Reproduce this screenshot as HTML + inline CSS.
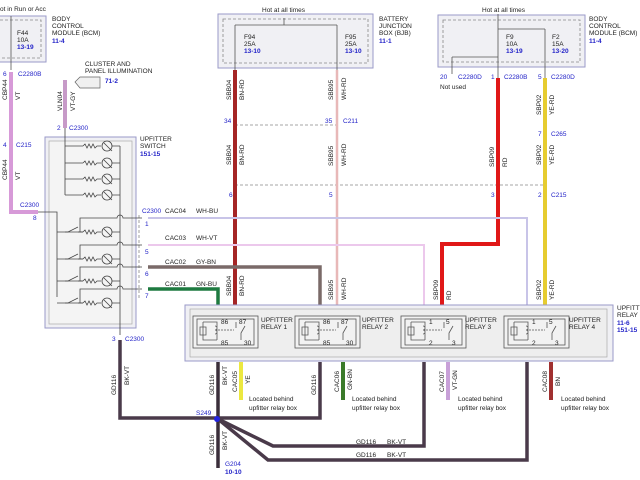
<!DOCTYPE html><html><head><style>body{margin:0;background:#fff}svg{display:block}text{font-family:"Liberation Sans",sans-serif;font-size:6.5px;fill:#222}.b{fill:#2323c8}.bb{fill:#2323c8;font-weight:bold}</style></head><body>
<svg width="640" height="480" viewBox="0 0 640 480" xmlns="http://www.w3.org/2000/svg">
<defs>
<g id="lamp"><path d="M65 0H83"/><path d="M83 0l2 -2 2 4 2 -4 2 4 2 -4 2 4 2-2H101"/><circle cx="107" cy="0" r="5"/><path d="M112 0H120M104 -3l6 6M110 3l2 2"/></g>
<g id="sw"><path d="M57 0H68l10 -5M78 0H83"/><use href="#lamp" x="0" y="0"/><path d="M80 0V-14H117a3 3 0 0 1 6 0H142"/></g>
<g id="rel" stroke="#555" stroke-width="0.8" fill="none">
<rect x="193" y="316" width="65" height="32" fill="#f2f2f2"/><rect x="197" y="319" width="57" height="26"/>
<path d="M203 322V340h14M203 322h14V340M200 327h6v8h-6zM215 326a2 2 0 0 1 0 4a2 2 0 0 1 0 4"/>
<path d="M236 322V328M241 340V333l4 -7" /><path d="M218 330H234" stroke-dasharray="2,1"/>
</g>
</defs>
<!-- top boxes -->
<g fill="#f0f0f4" stroke="#9a9ac8" stroke-width="1">
<rect x="-5" y="16" width="51" height="46"/>
<rect x="218" y="14" width="155" height="54"/>
<rect x="438" y="15" width="147" height="52"/>
</g>
<g fill="none" stroke="#888" stroke-dasharray="3,2" stroke-width="0.8">
<rect x="-5" y="20" width="46" height="38"/>
<rect x="223" y="19" width="145" height="44"/>
<rect x="443" y="20" width="137" height="42"/>
<line x1="235" y1="125" x2="340" y2="125"/>
<line x1="235" y1="185" x2="545" y2="185"/>
<line x1="139" y1="215" x2="139" y2="300"/>
</g>
<g stroke="#555" stroke-width="0.8" fill="none">
<line x1="11" y1="16" x2="11" y2="70"/>
<line x1="235" y1="25" x2="284" y2="25"/><line x1="284" y1="18" x2="284" y2="25"/><line x1="284" y1="25" x2="337" y2="25"/>
<line x1="235" y1="25" x2="235" y2="70"/><line x1="337" y1="25" x2="337" y2="70"/>
<line x1="498" y1="14" x2="498" y2="78"/><line x1="498" y1="29" x2="545" y2="29"/><line x1="545" y1="29" x2="545" y2="78"/>
<line x1="498" y1="57" x2="452" y2="57"/><line x1="452" y1="57" x2="452" y2="74"/>
</g>
<text x="0" y="11">ot in Run or Acc</text>
<text x="17" y="35">F44</text><text x="17" y="42">10A</text><text x="17" y="49" class="bb">13-19</text>
<text x="52" y="21">BODY</text><text x="52" y="28">CONTROL</text><text x="52" y="35">MODULE (BCM)</text><text x="52" y="43" class="bb">11-4</text>
<text x="262" y="12">Hot at all times</text>
<text x="244" y="39">F94</text><text x="244" y="46">25A</text><text x="244" y="53" class="bb">13-10</text>
<text x="345" y="39">F95</text><text x="345" y="46">25A</text><text x="345" y="53" class="bb">13-10</text>
<text x="379" y="21">BATTERY</text><text x="379" y="28">JUNCTION</text><text x="379" y="35">BOX (BJB)</text><text x="379" y="43" class="bb">11-1</text>
<text x="482" y="12">Hot at all times</text>
<text x="506" y="39">F9</text><text x="506" y="46">10A</text><text x="506" y="53" class="bb">13-19</text>
<text x="552" y="39">F2</text><text x="552" y="46">15A</text><text x="552" y="53" class="bb">13-20</text>
<text x="589" y="21">BODY</text><text x="589" y="28">CONTROL</text><text x="589" y="35">MODULE (BCM)</text><text x="589" y="43" class="bb">11-4</text>
<g fill="none" stroke-linecap="butt">
<path d="M11 72V212H38" stroke="#d79ad8" stroke-width="4"/>
<path d="M65 80V128" stroke="#c79ac8" stroke-width="4"/>
<path d="M235 70V305" stroke="#a52525" stroke-width="4"/>
<path d="M337 70V305" stroke="#e8b8b8" stroke-width="2.5"/>
<path d="M498 78V244H442V305" stroke="#e01818" stroke-width="4"/>
<path d="M545 78V305" stroke="#e6cc30" stroke-width="4"/>
<path d="M148 218H527V305" stroke="#c8c4e8" stroke-width="2"/>
<path d="M148 245H424V305" stroke="#ecc8ec" stroke-width="2"/>
<path d="M148 267H320V305" stroke="#7a6a68" stroke-width="3.5"/>
<path d="M148 289H218V305" stroke="#1e7a40" stroke-width="3.5"/>
<path d="M120 340V418H320V362" stroke="#4a3a4a" stroke-width="3.5"/>
<path d="M218 362V468" stroke="#3a2e3a" stroke-width="3.5"/>
<path d="M218 419L273 446H424V362" stroke="#4a3a4a" stroke-width="3.5"/>
<path d="M218 419L268 460H527V362" stroke="#4a3a4a" stroke-width="3.5"/>
<path d="M241 362V400" stroke="#ece840" stroke-width="4"/>
<path d="M343 362V400" stroke="#3a7a2a" stroke-width="4"/>
<path d="M448 362V400" stroke="#c8a0d8" stroke-width="4"/>
<path d="M551 362V400" stroke="#a03030" stroke-width="4"/>
</g>
<circle cx="217" cy="419" r="3" fill="#2323e0"/>
<text x="196" y="415" class="b">S249</text>
<text x="225" y="466" class="b">G204</text><text x="225" y="474" class="bb">10-10</text>
<text x="3" y="76" class="b">6</text><text x="18" y="76" class="b">C2280B</text>
<text x="3" y="147" class="b">4</text><text x="16" y="147" class="b">C215</text>
<text x="20" y="207" class="b">C2300</text><text x="33" y="220" class="b">8</text>
<text x="57" y="130" class="b">2</text><text x="69" y="130" class="b">C2300</text>
<text x="85" y="66">CLUSTER AND</text><text x="85" y="73">PANEL ILLUMINATION</text><text x="105" y="83" class="bb">71-2</text>
<polygon points="75,82 80,77 100,77 100,88 80,88" fill="#f0f0f0" stroke="#666" stroke-width="0.7"/>
<text x="224" y="123" class="b">34</text><text x="325" y="123" class="b">35</text><text x="343" y="123" class="b">C211</text>
<text x="229" y="197" class="b">6</text><text x="329" y="197" class="b">5</text><text x="491" y="197" class="b">3</text><text x="538" y="197" class="b">2</text><text x="551" y="197" class="b">C215</text>
<text x="440" y="79" class="b">20</text><text x="458" y="79" class="b">C2280D</text><text x="440" y="89">Not used</text>
<text x="491" y="79" class="b">1</text><text x="504" y="79" class="b">C2280B</text>
<text x="538" y="79" class="b">5</text><text x="551" y="79" class="b">C2280D</text>
<text x="538" y="136" class="b">7</text><text x="551" y="136" class="b">C265</text>
<g font-size="6">
<text transform="translate(231,100) rotate(-90)">SBB04</text><text transform="translate(244,100) rotate(-90)">BN-RD</text>
<text transform="translate(231,165) rotate(-90)">SBB04</text><text transform="translate(244,165) rotate(-90)">BN-RD</text>
<text transform="translate(231,296) rotate(-90)">SBB04</text><text transform="translate(244,296) rotate(-90)">BN-RD</text>
<text transform="translate(333,100) rotate(-90)">SBB95</text><text transform="translate(346,100) rotate(-90)">WH-RD</text>
<text transform="translate(333,166) rotate(-90)">SBB95</text><text transform="translate(346,166) rotate(-90)">WH-RD</text>
<text transform="translate(333,300) rotate(-90)">SBB95</text><text transform="translate(346,300) rotate(-90)">WH-RD</text>
<text transform="translate(494,167) rotate(-90)">SBP09</text><text transform="translate(507,167) rotate(-90)">RD</text>
<text transform="translate(438,300) rotate(-90)">SBP09</text><text transform="translate(451,300) rotate(-90)">RD</text>
<text transform="translate(541,115) rotate(-90)">SBP02</text><text transform="translate(554,115) rotate(-90)">YE-RD</text>
<text transform="translate(541,165) rotate(-90)">SBP02</text><text transform="translate(554,165) rotate(-90)">YE-RD</text>
<text transform="translate(541,300) rotate(-90)">SBP02</text><text transform="translate(554,300) rotate(-90)">YE-RD</text>
<text transform="translate(7,100) rotate(-90)">CBP44</text><text transform="translate(20,100) rotate(-90)">VT</text>
<text transform="translate(7,180) rotate(-90)">CBP44</text><text transform="translate(20,180) rotate(-90)">VT</text>
<text transform="translate(62,111) rotate(-90)">VLN04</text><text transform="translate(75,111) rotate(-90)">VT-GY</text>
<text transform="translate(116,395) rotate(-90)">GD116</text><text transform="translate(129,385) rotate(-90)">BK-VT</text>
<text transform="translate(214,395) rotate(-90)">GD116</text><text transform="translate(227,385) rotate(-90)">BK-VT</text>
<text transform="translate(214,455) rotate(-90)">GD116</text><text transform="translate(227,450) rotate(-90)">BK-VT</text>
<text transform="translate(316,395) rotate(-90)">GD116</text>
<text transform="translate(237,392) rotate(-90)">CAC05</text><text transform="translate(250,384) rotate(-90)">YE</text>
<text transform="translate(339,392) rotate(-90)">CAC06</text><text transform="translate(352,390) rotate(-90)">GN-BN</text>
<text transform="translate(444,392) rotate(-90)">CAC07</text><text transform="translate(457,390) rotate(-90)">VT-GN</text>
<text transform="translate(547,392) rotate(-90)">CAC08</text><text transform="translate(560,386) rotate(-90)">BN</text>
</g>
<text x="356" y="444">GD116</text><text x="387" y="444">BK-VT</text>
<text x="356" y="457">GD116</text><text x="387" y="457">BK-VT</text>
<text x="249" y="401">Located behind</text><text x="249" y="410">upfitter relay box</text>
<text x="352" y="401">Located behind</text><text x="352" y="410">upfitter relay box</text>
<text x="458" y="401">Located behind</text><text x="458" y="410">upfitter relay box</text>
<text x="561" y="401">Located behind</text><text x="561" y="410">upfitter relay box</text>
<rect x="45" y="137" width="91" height="191" fill="#f0f0f4" stroke="#9a9ac8"/>
<rect x="49" y="141" width="83" height="183" fill="#f4f4f4" stroke="#aaa" stroke-width="0.7"/>
<text x="140" y="141">UPFITTER</text><text x="140" y="148">SWITCH</text><text x="140" y="156" class="bb">151-15</text>
<g stroke="#444" stroke-width="0.8" fill="none">
<path d="M65 128V195M120 146V335M38 212H57V297"/>
<use href="#lamp" y="146"/><use href="#lamp" y="163"/><use href="#lamp" y="179"/><use href="#lamp" y="195"/>
<use href="#sw" y="232"/><use href="#sw" y="259"/><use href="#sw" y="281"/><use href="#sw" y="303"/>
</g>
<text x="142" y="213" class="b">C2300</text><text x="165" y="213">CAC04</text><text x="196" y="213">WH-BU</text>
<text x="165" y="240">CAC03</text><text x="196" y="240">WH-VT</text>
<text x="165" y="264">CAC02</text><text x="196" y="264">GY-BN</text>
<text x="165" y="286">CAC01</text><text x="196" y="286">GN-BU</text>
<text x="145" y="226" class="b">1</text><text x="145" y="254" class="b">5</text><text x="145" y="276" class="b">6</text><text x="145" y="298" class="b">7</text>
<text x="112" y="341" class="b">3</text><text x="125" y="341" class="b">C2300</text>
<rect x="185" y="305" width="428" height="56" fill="#f0f0f4" stroke="#9a9ac8"/>
<rect x="190" y="309" width="417" height="48" fill="#eeeeee" stroke="#aaa" stroke-width="0.7"/>
<use href="#rel"/><use href="#rel" x="102"/><use href="#rel" x="208"/><use href="#rel" x="311"/>
<g font-size="6">
<text x="221" y="324">86</text><text x="239" y="324">87</text><text x="221" y="345">85</text><text x="244" y="345">30</text>
<text x="323" y="324">86</text><text x="341" y="324">87</text><text x="323" y="345">85</text><text x="346" y="345">30</text>
<text x="429" y="324">1</text><text x="446" y="324">5</text><text x="429" y="345">2</text><text x="452" y="345">3</text>
<text x="532" y="324">1</text><text x="549" y="324">5</text><text x="532" y="345">2</text><text x="555" y="345">3</text>
</g>
<text x="261" y="322">UPFITTER</text><text x="261" y="329">RELAY 1</text>
<text x="362" y="322">UPFITTER</text><text x="362" y="329">RELAY 2</text>
<text x="465" y="322">UPFITTER</text><text x="465" y="329">RELAY 3</text>
<text x="569" y="322">UPFITTER</text><text x="569" y="329">RELAY 4</text>
<text x="617" y="310">UPFITTER</text><text x="617" y="317">RELAY BOX</text><text x="617" y="325" class="bb">11-6</text><text x="617" y="332" class="bb">151-15</text>
</svg></body></html>
